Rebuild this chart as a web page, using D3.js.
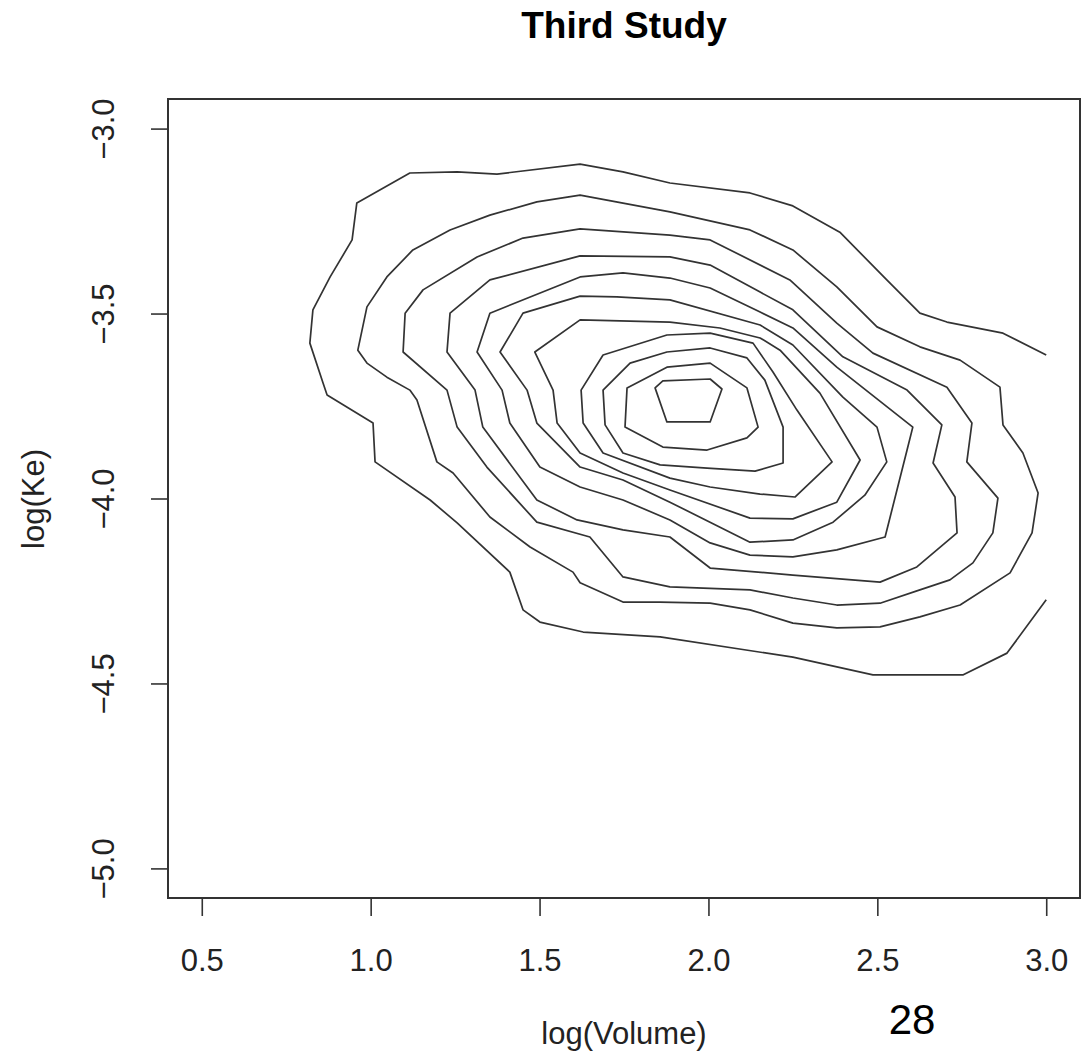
<!DOCTYPE html>
<html>
<head>
<meta charset="utf-8">
<script src="https://cdn.jsdelivr.net/npm/d3@7"></script>
<style>
    body { margin: 0; background: #fff; }
    text { font-family: "Liberation Sans", Arial, Helvetica, sans-serif; }
</style>
</head>
<body>
<div id="chart"></div>
<script>
// contour lines, [log(Volume), log(Ke)], outermost level first
// level1 is not closed: it runs into the right edge of the grid at 3.0
const level1 = [[3.000,-3.612],[2.872,-3.553],[2.706,-3.523],[2.626,-3.499],[2.528,-3.409],[2.389,-3.280],
    [2.250,-3.209],[2.123,-3.174],[1.886,-3.147],[1.747,-3.117],[1.620,-3.096],[1.374,-3.123],[1.256,-3.117],
    [1.116,-3.120],[0.959,-3.201],[0.945,-3.301],[0.880,-3.401],[0.829,-3.490],[0.820,-3.580],[0.859,-3.688],
    [0.871,-3.720],[1.007,-3.796],[1.013,-3.901],[1.176,-4.004],[1.256,-4.066],[1.412,-4.199],[1.451,-4.301],
    [1.501,-4.334],[1.629,-4.361],[1.857,-4.374],[2.250,-4.429],[2.487,-4.477],[2.753,-4.477],[2.884,-4.418],
    [3.000,-4.274]];
const level2 = [[1.886,-3.225],[2.123,-3.274],[2.250,-3.328],[2.380,-3.428],[2.499,-3.536],[2.626,-3.590],
    [2.745,-3.626],[2.863,-3.699],[2.872,-3.801],[2.931,-3.877],[2.976,-3.985],[2.958,-4.093],[2.893,-4.201],
    [2.745,-4.288],[2.626,-4.320],[2.508,-4.347],[2.380,-4.350],[2.250,-4.337],[2.123,-4.301],[2.005,-4.283],
    [1.857,-4.280],[1.747,-4.280],[1.620,-4.228],[1.599,-4.199],[1.472,-4.131],[1.353,-4.050],[1.244,-3.931],
    [1.196,-3.901],[1.137,-3.734],[1.116,-3.707],[1.048,-3.672],[0.989,-3.634],[0.962,-3.599],[0.989,-3.482],
    [1.048,-3.401],[1.125,-3.328],[1.235,-3.274],[1.353,-3.234],[1.492,-3.198],[1.620,-3.180]];
const level3 = [[1.886,-3.288],[2.005,-3.301],[2.241,-3.409],[2.380,-3.526],[2.487,-3.607],[2.706,-3.699],
    [2.780,-3.796],[2.765,-3.901],[2.857,-3.999],[2.842,-4.093],[2.783,-4.174],[2.715,-4.220],[2.626,-4.247],
    [2.508,-4.283],[2.380,-4.288],[2.250,-4.269],[2.123,-4.247],[1.886,-4.239],[1.747,-4.212],[1.649,-4.104],
    [1.492,-4.064],[1.344,-3.915],[1.256,-3.807],[1.226,-3.707],[1.096,-3.604],[1.102,-3.499],[1.155,-3.436],
    [1.315,-3.347],[1.451,-3.296],[1.620,-3.271]];
const level4 = [[1.886,-3.347],[2.005,-3.369],[2.153,-3.442],[2.250,-3.490],[2.398,-3.617],[2.588,-3.707],
    [2.691,-3.801],[2.665,-3.904],[2.730,-3.996],[2.736,-4.093],[2.617,-4.185],[2.508,-4.226],[2.250,-4.207],
    [2.005,-4.188],[1.886,-4.104],[1.747,-4.085],[1.611,-4.058],[1.492,-4.004],[1.332,-3.807],[1.309,-3.707],
    [1.226,-3.604],[1.235,-3.499],[1.353,-3.409],[1.620,-3.344]];
const level5 = [[1.886,-3.404],[2.005,-3.431],[2.153,-3.496],[2.250,-3.539],[2.380,-3.645],[2.605,-3.807],
    [2.588,-3.869],[2.523,-4.104],[2.380,-4.139],[2.250,-4.158],[2.123,-4.153],[2.005,-4.120],[1.886,-4.058],
    [1.747,-4.004],[1.620,-3.969],[1.501,-3.915],[1.412,-3.796],[1.389,-3.707],[1.315,-3.604],[1.353,-3.499],
    [1.620,-3.401],[1.747,-3.390]];
const level6 = [[1.886,-3.463],[2.153,-3.531],[2.250,-3.585],[2.398,-3.726],[2.499,-3.807],[2.528,-3.901],
    [2.463,-3.991],[2.369,-4.064],[2.250,-4.112],[2.123,-4.118],[1.886,-4.010],[1.747,-3.950],[1.620,-3.915],
    [1.492,-3.796],[1.463,-3.707],[1.383,-3.604],[1.451,-3.499],[1.620,-3.453],[1.729,-3.455]];
const level7 = [[1.886,-3.523],[2.034,-3.539],[2.153,-3.566],[2.212,-3.599],[2.330,-3.715],[2.449,-3.896],
    [2.380,-4.010],[2.250,-4.055],[2.123,-4.053],[1.886,-3.977],[1.747,-3.931],[1.620,-3.877],[1.552,-3.796],
    [1.540,-3.707],[1.486,-3.604],[1.620,-3.517]];
const level8 = [[1.877,-3.558],[2.005,-3.553],[2.132,-3.580],[2.191,-3.658],[2.262,-3.761],[2.366,-3.901],
    [2.256,-3.996],[2.153,-3.988],[2.005,-3.969],[1.886,-3.945],[1.688,-3.877],[1.629,-3.796],[1.623,-3.707],
    [1.688,-3.612]];
const level9 = [[1.877,-3.604],[2.005,-3.593],[2.114,-3.620],[2.167,-3.680],[2.221,-3.807],[2.221,-3.904],
    [2.138,-3.926],[1.996,-3.918],[1.857,-3.909],[1.747,-3.877],[1.694,-3.801],[1.688,-3.707],[1.768,-3.634]];
const level10 = [[1.759,-3.701],[1.877,-3.645],[2.005,-3.634],[2.114,-3.701],[2.147,-3.807],[2.114,-3.836],
    [1.996,-3.869],[1.865,-3.861],[1.753,-3.807]];
const level11 = [[1.842,-3.701],[1.865,-3.682],[2.005,-3.677],[2.040,-3.704],[2.005,-3.793],[1.877,-3.793]];

const levels = [level1, level2, level3, level4, level5, level6, level7, level8, level9, level10, level11];

const xTicks = [0.5, 1.0, 1.5, 2.0, 2.5, 3.0];
const yTicks = [-5.0, -4.5, -4.0, -3.5, -3.0];

var width = 1088, height = 1055;

const svg = d3.select("#chart")
    .append("svg")
    .attr("width", width)
    .attr("height", height)

// R pads the data range by 4% on each side
var x = d3.scaleLinear().domain([0.4, 3.1]).range([168, 1080])
var y = d3.scaleLinear().domain([-5.08, -2.92]).range([898, 99])

var openLine = d3.line()
    .x(d => x(d[0]))
    .y(d => y(d[1]))
var closedLine = d3.line()
    .x(d => x(d[0]))
    .y(d => y(d[1]))
    .curve(d3.curveLinearClosed)

// Draw the contours
svg.append("g")
    .selectAll("path")
    .data(levels)
    .enter()
    .append("path")
    .attr("d", (d, i) => i == 0 ? openLine(d) : closedLine(d))
    .attr("fill", "none")
    .attr("stroke", "#333")
    .attr("stroke-width", 1.7)
    .attr("stroke-linejoin", "round")

// plot box
svg.append("rect")
    .attr("x", x.range()[0])
    .attr("y", y.range()[1])
    .attr("width", x.range()[1] - x.range()[0])
    .attr("height", y.range()[0] - y.range()[1])
    .attr("fill", "none")
    .attr("stroke", "#333")
    .attr("stroke-width", 2)

// x axis
var xAxis = svg.append("g")
    .attr("transform", "translate(0," + y.range()[0] + ")")
    .call(d3.axisBottom(x).tickValues(xTicks).tickFormat(d3.format(".1f")).tickSize(18).tickPadding(33))
xAxis.select(".domain").remove()
xAxis.selectAll("line").attr("stroke", "#333").attr("stroke-width", 1.6)
xAxis.selectAll("text").style("font-size", "31px").attr("fill", "#222")

// y axis, labels turned like R's las=0
var yAxis = svg.append("g")
    .attr("transform", "translate(" + x.range()[0] + ",0)")
    .call(d3.axisLeft(y).tickValues(yTicks).tickFormat(d3.format(".1f")).tickSize(17))
yAxis.select(".domain").remove()
yAxis.selectAll("line").attr("stroke", "#333").attr("stroke-width", 1.6)
yAxis.selectAll("text")
    .attr("transform", "rotate(-90)")
    .attr("x", 0)
    .attr("y", -54)
    .attr("dy", null)
    .attr("text-anchor", "middle")
    .style("font-size", "31px")
    .attr("fill", "#222")

svg.append("text")
    .attr("x", 624)
    .attr("y", 38)
    .attr("text-anchor", "middle")
    .text("Third Study")
    .style("font-size", "37px")
    .style("font-weight", "bold")

svg.append("text")
    .attr("x", 624)
    .attr("y", 1044)
    .attr("text-anchor", "middle")
    .text("log(Volume)")
    .style("font-size", "31px")
    .attr("fill", "#222")

svg.append("text")
    .attr("transform", "translate(44,499) rotate(-90)")
    .attr("text-anchor", "middle")
    .text("log(Ke)")
    .style("font-size", "31px")
    .attr("fill", "#222")

// slide page number
svg.append("text")
    .attr("x", 912)
    .attr("y", 1034)
    .attr("text-anchor", "middle")
    .text("28")
    .style("font-size", "42px")
</script>
</body>
</html>
